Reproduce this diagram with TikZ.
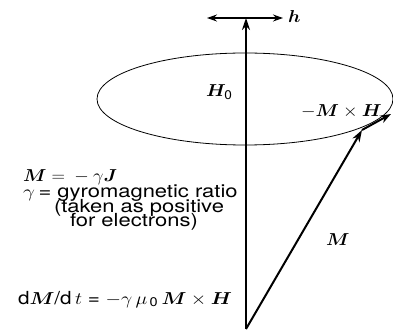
\documentclass[tikz,border=0pt]{standalone}
\usepackage{amsmath,amssymb,bm}
\usepackage{fontspec}
\setmainfont{TeX Gyre Heros}
\usetikzlibrary{arrows.meta}
\newcommand{\widetxt}[2]{\scalebox{#1}[1]{#2}}

\begin{document}
\begin{tikzpicture}[x=1pt, y=-1pt, line width=2pt,
    every node/.style={font=\fontsize{18}{14}\selectfont, inner sep=0pt, anchor=base west}]
            \useasboundingbox (0,0) rectangle (393,331);
            \coordinate (O) at (246,329);
            \coordinate (T) at (246,18);
            \coordinate (Mtip) at (362,130);
            \coordinate (Ttip) at (391,114);
            \coordinate (hL) at (207,18);
            \coordinate (hR) at (283,18);

            % precession cone
            \draw[line width=0.8pt] (245,99) ellipse [x radius=148, y radius=46];
            \draw[-{Stealth[length=12pt,width=8pt]}] (O) -- (T);
            \draw[{Stealth[length=10pt,width=7pt]}-{Stealth[length=10pt,width=7pt]}, line width=1.2pt] (hL) -- (hR);
            \draw[-{Stealth[length=12pt,width=8pt]}] (O) -- (Mtip);
            \draw[-{Stealth[length=11pt,width=8pt]}] (Mtip) -- (Ttip);

            \node (hlab) at (287,23) {\widetxt{1.08}{$\bm{h}$}};
            \node (Hlab) at (205,97) {\widetxt{1.08}{$\bm{H}_{\text{0}}$}};
            \node (MHlab) at (300,117) {\widetxt{1.08}{$-\bm{M}\times\bm{H}$}};
            \node (Mlab) at (325,245) {\widetxt{1.08}{$\bm{M}$}};

            % relations
            \node (line1) at (22,182) {\widetxt{1.08}{$\bm{M} = {}-{}\gamma\bm{J}$}};
            \node (line2) at (22,197) {\widetxt{1.22}{$\gamma$\,= gyromagnetic ratio}};
            \node (line3) at (53,212) {\widetxt{1.22}{(taken as positive}};
            \node (line4) at (69,226.5) {\widetxt{1.22}{for electrons)}};
            \node (line5) at (17,304) {\widetxt{1.15}{d$\bm{M}$/d$\,t$ = $-\gamma\,\mu_{\,\text{0}}\,\bm{M}\times\bm{H}$}};
        \end{tikzpicture}
\end{document}
